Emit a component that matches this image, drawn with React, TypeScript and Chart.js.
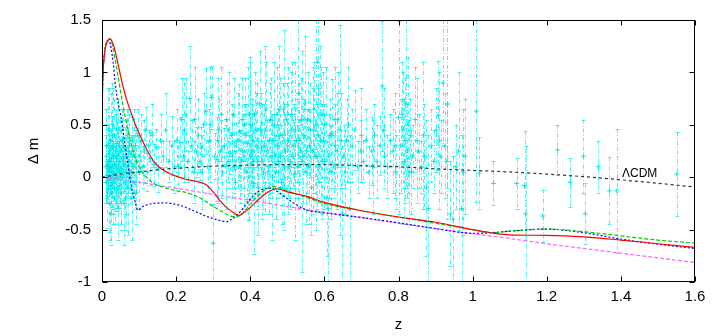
import React, { useEffect, useRef } from "react";
import { Chart, registerables } from "chart.js";
Chart.register(...registerables);

const xTicks = [0, 0.2, 0.4, 0.6, 0.8, 1, 1.2, 1.4, 1.6];
const yTicks = [-1, -0.5, 0, 0.5, 1, 1.5];

// Supernova residuals: [z, Δm, σ]
const snData: number[][] = [
  [0.010,0.10,0.30],[0.011,-0.05,0.20],[0.012,0.20,0.45],[0.013,0.02,0.15],[0.014,-0.18,0.30],
  [0.015,0.12,0.22],[0.016,0.30,0.55],[0.016,-0.02,0.12],[0.017,0.08,0.18],[0.018,-0.12,0.40],
  [0.019,0.22,0.25],[0.020,0.05,0.10],[0.021,-0.25,0.35],[0.022,0.15,0.30],[0.023,0.35,0.45],
  [0.023,0.00,0.15],[0.024,-0.08,0.20],[0.025,0.18,0.12],[0.026,0.06,0.25],[0.027,-0.15,0.15],
  [0.027,0.40,0.50],[0.028,0.28,0.30],[0.029,0.10,0.20],[0.030,-0.05,0.40],[0.031,0.20,0.15],
  [0.032,0.02,0.12],[0.033,0.40,0.35],[0.034,-0.20,0.25],[0.035,0.12,0.18],[0.036,0.25,0.22],
  [0.037,-0.02,0.30],[0.038,0.08,0.10],[0.039,0.32,0.28],[0.040,-0.12,0.20],[0.041,0.18,0.35],
  [0.042,0.00,0.15],[0.043,0.22,0.20],[0.044,-0.30,0.30],[0.045,0.10,0.25],[0.046,0.30,0.18],
  [0.047,0.05,0.30],[0.048,-0.08,0.15],[0.049,0.15,0.40],[0.050,0.25,0.20],[0.052,-0.15,0.35],
  [0.053,0.08,0.18],[0.055,0.35,0.30],[0.056,0.00,0.22],[0.058,0.18,0.15],[0.059,-0.25,0.40],
  [0.060,0.12,0.25],[0.062,0.28,0.20],[0.063,-0.05,0.30],[0.065,0.20,0.35],[0.067,0.05,0.15],
  [0.068,0.40,0.25],[0.070,-0.10,0.45],[0.072,0.15,0.20],[0.074,0.30,0.30],[0.076,0.00,0.25],
  [0.078,0.22,0.18],[0.080,-0.20,0.40],[0.082,0.35,0.22],[0.084,0.10,0.30],[0.086,0.25,0.40],
  [0.088,-0.05,0.25],[0.090,0.30,0.20],[0.093,0.15,0.30],[0.096,0.40,0.25],[0.099,0.05,0.35],
  [0.012,0.30,0.35],[0.018,0.45,0.40],[0.021,0.10,0.25],[0.024,-0.35,0.30],[0.029,0.50,0.35],
  [0.033,-0.10,0.25],[0.038,0.20,0.45],[0.044,0.45,0.30],[0.051,0.00,0.45],[0.057,0.30,0.35],
  [0.064,-0.20,0.30],[0.071,0.25,0.40],[0.079,0.05,0.20],[0.092,-0.15,0.30],
  [0.102,0.20,0.15],[0.106,0.35,0.25],[0.110,0.10,0.20],[0.114,0.25,0.30],[0.118,0.45,0.22],
  [0.122,0.05,0.18],[0.126,0.30,0.15],[0.130,0.18,0.25],[0.135,0.40,0.30],[0.140,0.12,0.20],
  [0.146,0.28,0.18],[0.152,0.08,0.22],[0.158,0.35,0.25],[0.165,0.20,0.15],[0.172,0.45,0.35],
  [0.180,0.15,0.20],[0.188,0.30,0.28],[0.195,0.10,0.25],
  [0.202,0.35,0.30],[0.206,0.10,0.20],[0.210,0.33,0.24],[0.215,0.55,0.40],[0.220,0.20,0.25],
  [0.222,0.45,0.45],[0.226,0.60,0.35],[0.231,0.15,0.20],[0.237,0.75,0.50],[0.242,0.30,0.25],
  [0.248,0.05,0.30],[0.250,0.55,0.50],[0.255,0.24,0.24],[0.260,0.40,0.35],[0.264,0.15,0.18],
  [0.268,0.28,0.20],[0.270,0.05,0.35],[0.274,0.50,0.30],[0.280,0.63,0.41],[0.285,0.10,0.25],
  [0.290,0.35,0.30],[0.292,0.50,0.55],[0.296,0.76,0.30],[0.300,-0.63,0.37],[0.304,0.20,0.22],
  [0.310,0.17,0.40],[0.312,0.35,0.60],[0.315,0.45,0.30],[0.320,0.25,0.30],[0.322,0.60,0.45],
  [0.325,0.05,0.25],[0.330,0.30,0.17],[0.335,0.10,0.40],[0.336,0.55,0.35],[0.340,0.15,0.20],
  [0.342,0.45,0.55],[0.345,0.23,0.20],[0.350,0.40,0.30],[0.352,0.20,0.40],[0.355,0.60,0.35],
  [0.357,0.10,0.25],[0.360,-0.05,0.30],[0.362,0.30,0.22],[0.366,0.35,0.45],[0.370,0.43,0.46],
  [0.372,0.10,0.35],[0.375,0.15,0.30],[0.378,0.55,0.40],[0.380,0.25,0.35],[0.383,0.20,0.50],
  [0.385,0.50,0.45],[0.388,0.40,0.30],[0.390,0.05,0.28],[0.393,0.32,0.73],[0.396,0.00,0.40],
  [0.398,0.60,0.50],[0.400,0.50,0.65],[0.402,0.20,0.30],[0.404,0.25,0.45],[0.406,0.35,0.40],
  [0.408,0.15,0.30],[0.410,-0.06,0.67],[0.412,0.60,0.40],[0.415,0.45,0.35],[0.418,0.30,0.60],
  [0.420,0.15,0.32],[0.422,-0.10,0.45],[0.425,0.70,0.50],[0.428,0.45,0.35],[0.430,0.28,0.25],
  [0.432,0.15,0.55],[0.435,0.05,0.35],[0.438,0.30,0.40],[0.440,0.45,0.80],[0.442,0.65,0.45],
  [0.445,0.25,0.30],[0.448,0.05,0.30],[0.450,0.10,0.45],[0.452,0.35,0.55],[0.455,0.55,0.40],
  [0.458,0.20,0.35],[0.460,0.00,0.60],[0.463,0.35,0.25],[0.465,0.50,0.60],[0.467,0.20,0.20],
  [0.470,0.05,0.45],[0.472,0.60,0.45],[0.474,0.30,0.35],[0.476,0.15,0.35],[0.478,0.65,0.60],
  [0.480,0.40,0.55],[0.482,0.20,0.30],[0.485,-0.05,0.40],[0.488,0.40,0.50],[0.490,0.65,0.75],
  [0.492,0.10,0.60],[0.495,0.25,0.35],[0.498,0.55,0.35],[0.500,0.30,0.40],
  [0.503,0.35,0.70],[0.505,0.10,0.30],[0.508,0.15,0.45],[0.510,0.45,0.55],[0.512,0.60,0.50],
  [0.515,0.20,0.35],[0.518,0.30,0.40],[0.520,0.03,0.63],[0.522,0.45,0.65],[0.525,0.35,0.40],
  [0.528,0.10,0.40],[0.530,0.80,0.70],[0.532,0.35,0.55],[0.535,0.25,0.30],[0.538,0.55,0.40],
  [0.540,0.15,1.05],[0.542,0.20,0.45],[0.545,0.40,0.35],[0.548,0.70,0.65],[0.550,0.05,0.50],
  [0.552,0.25,0.40],[0.555,0.55,0.45],[0.558,0.10,0.55],[0.560,0.30,0.25],[0.562,0.45,0.45],
  [0.565,-0.10,0.45],[0.568,0.25,0.60],[0.570,0.45,0.60],[0.572,0.65,0.45],[0.575,0.20,0.35],
  [0.578,0.50,1.00],[0.580,0.20,0.50],[0.582,1.10,0.40],[0.584,0.40,0.45],[0.586,0.10,0.30],
  [0.588,0.60,0.65],[0.590,0.35,0.70],[0.594,0.15,0.55],[0.596,0.60,0.40],[0.598,0.35,0.35],
  [0.600,0.15,0.45],[0.604,0.50,0.55],[0.606,-0.20,0.55],[0.610,-0.30,0.70],[0.612,0.20,0.40],
  [0.615,0.40,0.35],[0.618,0.05,0.45],[0.620,0.42,0.52],[0.625,0.10,0.30],[0.628,0.55,0.50],
  [0.630,0.30,0.40],[0.634,0.25,0.55],[0.636,0.55,0.45],[0.642,0.45,1.00],[0.645,0.35,0.45],
  [0.648,-0.35,0.65],[0.652,0.20,0.30],[0.656,0.05,0.40],[0.660,0.35,0.40],[0.665,0.50,0.55],
  [0.668,-0.30,0.70],[0.675,0.30,0.35],[0.682,0.45,0.38],[0.690,0.10,0.25],[0.698,0.25,0.30],
  [0.700,0.40,0.45],[0.705,0.15,0.20],[0.712,0.35,0.30],[0.720,0.05,0.25],[0.728,0.25,0.32],
  [0.730,0.10,0.45],[0.735,0.40,0.30],[0.742,0.15,0.35],[0.750,0.30,0.28],[0.756,0.87,0.62],
  [0.760,0.45,0.40],[0.762,0.20,0.30],[0.770,0.10,0.30],[0.778,0.35,0.25],[0.785,0.25,0.40],
  [0.790,0.30,0.50],[0.792,0.05,0.35],[0.800,0.57,0.92],[0.806,0.30,0.45],[0.810,0.60,0.50],
  [0.812,0.45,0.55],[0.816,0.15,0.60],[0.818,0.35,0.60],[0.820,0.70,0.80],[0.824,0.25,0.45],
  [0.826,0.50,0.65],[0.828,0.05,0.50],[0.832,0.40,0.35],[0.835,0.05,0.40],[0.838,0.20,0.30],
  [0.845,0.55,0.50],[0.850,0.35,0.60],[0.854,0.25,0.35],[0.862,0.10,0.25],[0.867,0.40,0.70],
  [0.870,0.20,0.50],[0.875,-0.10,0.65],[0.880,-0.30,0.70],[0.888,0.30,0.35],[0.895,0.15,0.30],
  [0.902,0.45,0.40],[0.907,0.59,0.52],[0.910,0.35,0.65],[0.914,0.20,0.35],[0.920,0.90,0.60],
  [0.925,0.30,0.50],[0.930,0.15,0.55],[0.932,0.70,0.80],[0.940,-0.35,0.50],[0.947,-0.40,0.60],
  [0.955,0.10,0.40],[0.962,0.25,0.75],[0.970,-0.30,0.70],[0.975,0.05,0.60],[0.980,0.20,0.55],
  [1.010,0.63,0.87],[1.018,0.04,0.34],[1.056,-0.06,0.21],[1.119,-0.06,0.24],[1.140,-0.08,0.52],
  [1.143,-0.35,0.65],[1.189,-0.37,0.25],[1.229,0.26,0.24],[1.263,-0.05,0.23],[1.299,0.20,0.35],
  [1.304,-0.35,0.29],[1.339,0.10,0.25],[1.369,-0.13,0.32],[1.389,-0.13,0.59],[1.551,0.03,0.40],
];

// Model curves
const redZ = [0,0.001,0.003,0.006,0.01,0.015,0.02,0.025,0.03,0.035,0.04,0.045,0.05,0.06,0.07,0.08,0.09,0.1,0.12,0.14,0.16,0.18,0.2,0.22,0.24,0.26,0.28,0.3,0.32,0.34,0.36,0.37,0.38,0.4,0.42,0.44,0.46,0.47,0.48,0.5,0.55,0.6,0.7,0.8,0.9,1.0,1.05,1.1,1.2,1.3,1.4,1.5,1.6];
const redM = [0,0.7,1.0,1.15,1.25,1.30,1.32,1.31,1.27,1.21,1.13,1.05,0.97,0.82,0.7,0.6,0.5,0.42,0.27,0.15,0.08,0.04,0.01,-0.015,-0.03,-0.045,-0.07,-0.14,-0.23,-0.30,-0.35,-0.365,-0.345,-0.29,-0.22,-0.16,-0.12,-0.11,-0.115,-0.14,-0.18,-0.24,-0.32,-0.38,-0.43,-0.5,-0.53,-0.55,-0.555,-0.57,-0.6,-0.635,-0.67];

const greenZ = [0,0.001,0.003,0.006,0.01,0.015,0.02,0.025,0.03,0.035,0.04,0.045,0.05,0.06,0.07,0.08,0.09,0.1,0.12,0.14,0.16,0.18,0.2,0.22,0.24,0.26,0.28,0.3,0.32,0.34,0.36,0.37,0.38,0.4,0.42,0.44,0.46,0.48,0.5,0.55,0.6,0.7,0.8,0.9,1.0,1.05,1.1,1.2,1.3,1.4,1.5,1.6];
const greenM = [0,0.7,1.0,1.15,1.25,1.30,1.32,1.30,1.23,1.13,1.03,0.93,0.82,0.62,0.45,0.3,0.18,0.10,0.0,-0.06,-0.09,-0.11,-0.13,-0.14,-0.16,-0.19,-0.23,-0.28,-0.32,-0.36,-0.38,-0.37,-0.34,-0.26,-0.18,-0.12,-0.09,-0.1,-0.13,-0.19,-0.25,-0.32,-0.38,-0.44,-0.5,-0.53,-0.515,-0.495,-0.52,-0.56,-0.6,-0.63];

const blueZ = [0,0.001,0.003,0.006,0.01,0.015,0.02,0.025,0.03,0.035,0.04,0.045,0.05,0.06,0.07,0.08,0.09,0.097,0.11,0.12,0.14,0.17,0.2,0.22,0.24,0.26,0.28,0.3,0.32,0.336,0.35,0.36,0.38,0.4,0.42,0.44,0.455,0.47,0.49,0.51,0.55,0.6,0.7,0.8,0.9,1.0,1.05,1.1,1.2,1.3,1.4,1.5,1.6];
const blueM = [0,0.7,1.0,1.17,1.26,1.30,1.30,1.22,1.1,0.92,0.78,0.68,0.6,0.36,0.12,-0.1,-0.24,-0.315,-0.28,-0.265,-0.25,-0.245,-0.26,-0.28,-0.31,-0.34,-0.37,-0.395,-0.415,-0.425,-0.4,-0.375,-0.3,-0.21,-0.14,-0.11,-0.105,-0.13,-0.18,-0.23,-0.31,-0.34,-0.385,-0.435,-0.49,-0.535,-0.53,-0.515,-0.495,-0.53,-0.59,-0.64,-0.68];

const magentaZ = [0,0.1,0.2,0.3,0.4,0.5,0.6,0.7,0.8,0.9,1.0,1.1,1.2,1.3,1.4,1.5,1.6];
const magentaM = [0,-0.05,-0.105,-0.165,-0.22,-0.28,-0.335,-0.385,-0.44,-0.49,-0.54,-0.585,-0.635,-0.68,-0.725,-0.77,-0.815];

const lcdmZ = [0,0.05,0.1,0.15,0.2,0.3,0.4,0.5,0.6,0.7,0.8,0.9,1.0,1.1,1.2,1.3,1.4,1.5,1.6];
const lcdmM = [0,0.03,0.05,0.07,0.085,0.105,0.115,0.12,0.12,0.11,0.1,0.08,0.065,0.05,0.03,0.005,-0.025,-0.058,-0.094];

const lcdmLabel = { text: "ΛCDM", z: 1.403, m: 0.036 };

const FONT = "'Liberation Sans', Arial, Helvetica, sans-serif";

const pts = (zs: number[], ms: number[]) => zs.map((z, i) => ({ x: z, y: ms[i] }));
const fmt = (v: number) => String(Math.round(v * 10) / 10);

const errorBarPlugin = {
  id: "errbars",
  beforeDatasetsDraw(chart: any) {
    const { ctx, chartArea: a, scales } = chart;
    const xs = scales.x, ys = scales.y;
    ctx.save();
    ctx.beginPath();
    ctx.rect(a.left, a.top, a.right - a.left, a.bottom - a.top);
    ctx.clip();
    ctx.strokeStyle = "rgba(0,240,240,0.72)";
    ctx.lineWidth = 1;
    ctx.setLineDash([4, 2, 1, 2]);
    for (const [z, m, e] of snData) {
      const px = Math.round(xs.getPixelForValue(z)) + 0.5;
      const yt = ys.getPixelForValue(m + e);
      const yb = ys.getPixelForValue(m - e);
      ctx.beginPath();
      ctx.moveTo(px, yt);
      ctx.lineTo(px, yb);
      ctx.stroke();
    }
    ctx.setLineDash([]);
    ctx.beginPath();
    for (const [z, m, e] of snData) {
      const px = Math.round(xs.getPixelForValue(z)) + 0.5;
      const yt = Math.round(ys.getPixelForValue(m + e)) + 0.5;
      const yb = Math.round(ys.getPixelForValue(m - e)) + 0.5;
      ctx.moveTo(px - 2, yt); ctx.lineTo(px + 2, yt);
      ctx.moveTo(px - 2, yb); ctx.lineTo(px + 2, yb);
    }
    ctx.stroke();
    ctx.restore();
  },
};

const framePlugin = {
  id: "frame",
  afterDraw(chart: any) {
    const { ctx, chartArea: a, scales } = chart;
    const xs = scales.x, ys = scales.y;
    ctx.save();
    ctx.strokeStyle = "#000";
    ctx.lineWidth = 1;
    const L = Math.round(a.left) + 0.5, R = Math.round(a.right) - 0.5;
    const T = Math.round(a.top) + 0.5, B = Math.round(a.bottom) - 0.5;
    ctx.strokeRect(L, T, R - L, B - T);
    const tl = 5;
    ctx.beginPath();
    for (const v of xTicks) {
      const px = Math.round(xs.getPixelForValue(v)) + 0.5;
      ctx.moveTo(px, B); ctx.lineTo(px, B - tl);
      ctx.moveTo(px, T); ctx.lineTo(px, T + tl);
    }
    for (const v of yTicks) {
      const py = Math.round(ys.getPixelForValue(v)) + 0.5;
      ctx.moveTo(L, py); ctx.lineTo(L + tl, py);
      ctx.moveTo(R, py); ctx.lineTo(R - tl, py);
    }
    ctx.stroke();
    ctx.fillStyle = "#000";
    ctx.font = `12px ${FONT}`;
    ctx.textAlign = "left";
    ctx.textBaseline = "middle";
    ctx.fillText(lcdmLabel.text, xs.getPixelForValue(lcdmLabel.z), ys.getPixelForValue(lcdmLabel.m));
    ctx.restore();
  },
};

export default function App() {
  const ref = useRef<HTMLCanvasElement | null>(null);
  useEffect(() => {
    if (!ref.current) return;
    const lineBase = {
      type: "line" as const,
      pointRadius: 0,
      fill: false,
      borderWidth: 1.2,
      cubicInterpolationMode: "monotone" as const,
    };
    const chart = new Chart(ref.current, {
      type: "scatter",
      data: {
        datasets: [
          { ...lineBase, label: "red", data: pts(redZ, redM), borderColor: "#ff0000", order: 0 },
          { ...lineBase, label: "green", data: pts(greenZ, greenM), borderColor: "#00cc00", borderDash: [4, 2], order: 1 },
          { ...lineBase, label: "blue", data: pts(blueZ, blueM), borderColor: "#0000ff", borderDash: [2, 2], order: 2 },
          { ...lineBase, label: "magenta", data: pts(magentaZ, magentaM), borderColor: "#ff66ff", borderDash: [4, 2], order: 3 },
          { ...lineBase, label: "ΛCDM", data: pts(lcdmZ, lcdmM), borderColor: "#333333", borderDash: [3, 3], order: 4 },
          {
            type: "scatter",
            label: "SN",
            data: snData.map(([z, m]) => ({ x: z, y: m })),
            pointStyle: "cross",
            pointRadius: 2.5,
            pointBorderWidth: 1,
            borderColor: "rgba(0,225,225,0.9)",
            backgroundColor: "rgba(0,225,225,0.9)",
            order: 10,
          } as any,
        ],
      },
      options: {
        responsive: false,
        animation: false,
        events: [],
        layout: { padding: { left: 0, right: 24, top: 19, bottom: 0 } },
        plugins: { legend: { display: false }, tooltip: { enabled: false } },
        scales: {
          x: {
            type: "linear",
            min: 0,
            max: 1.6,
            grid: { display: false, drawTicks: false },
            border: { display: false },
            ticks: { stepSize: 0.2, padding: 6, color: "#000", font: { size: 15, family: FONT }, callback: (v: any) => fmt(Number(v)) },
            title: { display: true, text: "z", color: "#000", font: { size: 15, family: FONT }, padding: { top: 0, bottom: 2 } },
            afterFit: (s: any) => { s.height = 54; },
          },
          y: {
            type: "linear",
            min: -1,
            max: 1.5,
            grid: { display: false, drawTicks: false },
            border: { display: false },
            ticks: { stepSize: 0.5, padding: 11, color: "#000", font: { size: 15, family: FONT }, callback: (v: any) => fmt(Number(v)) },
            title: { display: true, text: "Δ m", color: "#000", font: { size: 15, family: FONT }, padding: { top: 25, bottom: 0 } },
            afterFit: (s: any) => { s.width = 102; },
          },
        },
      },
      plugins: [errorBarPlugin, framePlugin],
    } as any);
    return () => chart.destroy();
  }, []);
  return (
    <div style={{ position: "absolute", left: 0, top: 0, width: 719, height: 336, background: "#fff" }}>
      <canvas ref={ref} width={719} height={336} style={{ display: "block" }} />
    </div>
  );
}
